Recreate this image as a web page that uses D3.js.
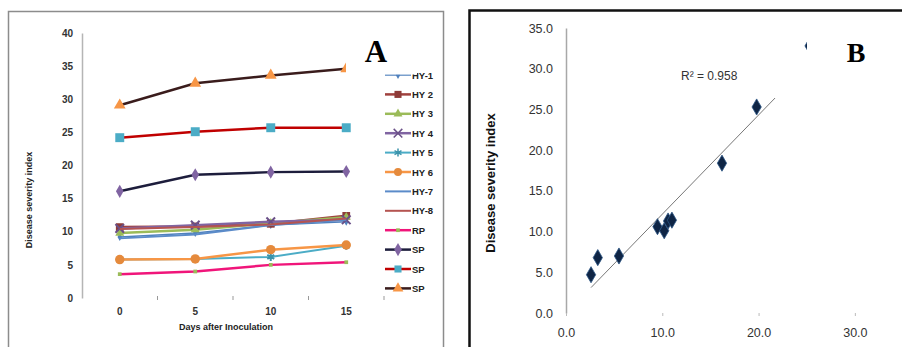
<!DOCTYPE html>
<html>
<head>
  <meta charset="utf-8">
  <script src="https://d3js.org/d3.v7.min.js"></script>
  <style>
    body, html { margin: 0; padding: 0; background: #fff; }
    svg { display: block; font-family: 'Liberation Sans', Arial, sans-serif; }
  </style>
</head>
<body>
  <svg></svg>
  <script>
    // Page size
    const width = 902;
    const height = 347;

    // Panel A data (days after inoculation vs disease severity index)
    const days = [0, 5, 10, 15];
    const seriesNames = ["HY-1", "HY 2", "HY 3", "HY 4", "HY 5", "HY 6", "HY-7", "HY-8", "RP", "SP", "SP", "SP"];
    const hy1 = [9.2, 9.8, 11.0, 11.5];
    const hy2 = [10.7, 10.8, 11.2, 12.4];
    const hy3 = [9.8, 10.3, 11.3, 12.2];
    const hy4 = [10.5, 11.0, 11.5, 11.8];
    const hy5 = [5.8, 5.9, 6.2, 7.9];
    const hy6 = [5.8, 5.9, 7.3, 8.0];
    const hy7 = [9.0, 9.6, 11.0, 11.8];
    const hy8 = [10.4, 10.7, 11.1, 12.0];
    const rp = [3.6, 4.0, 5.0, 5.4];
    const sp1 = [16.1, 18.6, 19.0, 19.1];
    const sp2 = [24.2, 25.1, 25.7, 25.7];
    const sp3 = [29.1, 32.4, 33.6, 34.6];
    const yTicksA = [0, 5, 10, 15, 20, 25, 30, 35, 40];

    // Panel B data (scatter with linear trend)
    const scatterX = [2.6, 3.3, 5.5, 9.5, 10.2, 10.6, 11.0, 16.2, 19.8, 25.3];
    const scatterY = [4.7, 6.8, 7.0, 10.6, 10.1, 11.3, 11.4, 18.4, 25.3, 32.8];
    const yTicksB = [0, 5, 10, 15, 20, 25, 30, 35];
    const xTicksB = [0, 10, 20, 30];

    const svg = d3.select("svg")
      .attr("width", width)
      .attr("height", height)
      .attr("viewBox", [0, 0, width, height]);

    // ---------- Panel A ----------
    svg.append("rect")
      .attr("x", 8.5).attr("y", 11.5).attr("width", 435).attr("height", 350)
      .attr("fill", "#fff").attr("stroke", "#8c8c8c").attr("stroke-width", 1.5);

    const xA = d3.scaleBand().domain(days).range([82, 384]).padding(0);
    const yA = d3.scaleLinear().domain([0, 40]).range([298, 33]);

    svg.append("g")
      .attr("transform", "translate(82,0)")
      .call(d3.axisLeft(yA).tickValues(yTicksA).tickSize(0).tickPadding(9))
      .call(g => g.select(".domain").attr("stroke", "#b5b5b5").attr("stroke-width", 1.5))
      .call(g => g.selectAll("text").attr("font-size", 10).attr("font-weight", "bold").attr("fill", "#333"));

    svg.append("g")
      .attr("transform", "translate(0,298)")
      .call(d3.axisBottom(xA).tickSize(0).tickPadding(10))
      .call(g => g.select(".domain").remove())
      .call(g => g.selectAll("text").attr("font-size", 10).attr("font-weight", "bold").attr("fill", "#333"));

    // tick marks between categories
    svg.append("g")
      .selectAll("line")
      .data(days)
      .join("line")
        .attr("x1", d => xA(d) + xA.bandwidth())
        .attr("x2", d => xA(d) + xA.bandwidth())
        .attr("y1", 296).attr("y2", 300)
        .attr("stroke", "#999");

    svg.append("text")
      .attr("x", 226).attr("y", 330)
      .attr("text-anchor", "middle")
      .attr("font-size", 9).attr("font-weight", "bold").attr("fill", "#222")
      .text("Days after Inoculation");

    svg.append("text")
      .attr("transform", "translate(32,200) rotate(-90)")
      .attr("text-anchor", "middle")
      .attr("font-size", 9).attr("font-weight", "bold").attr("fill", "#222")
      .text("Disease severity index");

    const seriesA = [
      { name: seriesNames[0], values: hy1, line: "#4F81BD", w: 1.5, mark: d3.symbolDiamond, size: 18, fill: "#4F81BD" },
      { name: seriesNames[1], values: hy2, line: "#A0413E", w: 2.5, mark: d3.symbolSquare, size: 60, fill: "#8E3B38" },
      { name: seriesNames[2], values: hy3, line: "#9BBB59", w: 2.5, mark: d3.symbolTriangle, size: 35, fill: "#9BBB59" },
      { name: seriesNames[3], values: hy4, line: "#8064A2", w: 2.5, mark: d3.symbolTimes, size: 50, stroke: "#6a5088" },
      { name: seriesNames[4], values: hy5, line: "#4BACC6", w: 2, mark: d3.symbolAsterisk, size: 45, stroke: "#3b93ab" },
      { name: seriesNames[5], values: hy6, line: "#F79646", w: 2.5, mark: d3.symbolCircle, size: 70, fill: "#E58A3C" },
      { name: seriesNames[6], values: hy7, line: "#5B8BC9", w: 2, mark: null },
      { name: seriesNames[7], values: hy8, line: "#B55451", w: 2, mark: null },
      { name: seriesNames[8], values: rp, line: "#F0157A", w: 2.5, mark: d3.symbolSquare, size: 14, fill: "#9BBB59" },
      { name: seriesNames[9], values: sp1, line: "#1d1d3c", w: 2.5, mark: d3.symbolDiamond, size: 50, fill: "#8064A2" },
      { name: seriesNames[10], values: sp2, line: "#C00000", w: 2.5, mark: d3.symbolSquare, size: 80, fill: "#4BACC6" },
      { name: seriesNames[11], values: sp3, line: "#3a1c1c", w: 2.5, mark: d3.symbolTriangle, size: 60, fill: "#F79646" }
    ];

    const lineA = d3.line()
      .x((d, i) => xA(days[i]) + xA.bandwidth() / 2)
      .y(d => yA(d));

    const gA = svg.append("g");
    seriesA.forEach(s => {
      gA.append("path")
        .attr("d", lineA(s.values))
        .attr("fill", "none")
        .attr("stroke", s.line)
        .attr("stroke-width", s.w);
      if (s.mark) {
        gA.selectAll(null)
          .data(s.values)
          .join("path")
            .attr("transform", (d, i) => `translate(${xA(days[i]) + xA.bandwidth() / 2},${yA(d)})`)
            .attr("d", d3.symbol(s.mark, s.size))
            .attr("fill", s.fill || "none")
            .attr("stroke", s.stroke || "none")
            .attr("stroke-width", s.stroke ? 2 : 0);
      }
    });

    // legend
    const legend = svg.append("g")
      .selectAll("g")
      .data(seriesA)
      .join("g")
        .attr("transform", (d, i) => `translate(385,${75 + i * 19.4})`);

    legend.append("line")
      .attr("x1", 0).attr("x2", 26)
      .attr("stroke", d => d.line)
      .attr("stroke-width", d => Math.min(d.w, 2.5));

    legend.filter(d => d.mark)
      .append("path")
        .attr("transform", "translate(13,0)")
        .attr("d", d => d3.symbol(d.mark, Math.min(d.size, 50))())
        .attr("fill", d => d.fill || "none")
        .attr("stroke", d => d.stroke || "none")
        .attr("stroke-width", d => d.stroke ? 1.5 : 0);

    legend.append("text")
      .attr("x", 27).attr("y", 3.5)
      .attr("font-size", 9.5).attr("font-weight", "bold").attr("fill", "#222")
      .text(d => d.name);

    // white box of the "A" label sitting on top of the chart
    svg.append("rect")
      .attr("x", 346).attr("y", 28).attr("width", 71).attr("height", 46.5)
      .attr("fill", "#fff");
    svg.append("text")
      .attr("x", 376).attr("y", 62)
      .attr("text-anchor", "middle")
      .attr("font-family", "'Liberation Serif', 'Times New Roman', serif")
      .attr("font-size", 31).attr("font-weight", "bold").attr("fill", "#000")
      .text("A");

    // ---------- Panel B ----------
    svg.append("rect")
      .attr("x", 469.5).attr("y", 10.5).attr("width", 440).attr("height", 350)
      .attr("fill", "#fff").attr("stroke", "#111").attr("stroke-width", 2.5);

    const xB = d3.scaleLinear().domain([0, 35]).range([566, 903]);
    const yB = d3.scaleLinear().domain([0, 35]).range([313, 28]);

    svg.append("g")
      .attr("transform", "translate(566,0)")
      .call(d3.axisLeft(yB).tickValues(yTicksB).tickFormat(d3.format(".1f")).tickSize(0).tickPadding(13))
      .call(g => g.select(".domain").attr("stroke", "#a8a8a8").attr("stroke-width", 1.5))
      .call(g => g.selectAll("text").attr("font-size", 12.5).attr("fill", "#333"));

    svg.append("g")
      .attr("transform", "translate(0,313)")
      .call(d3.axisBottom(xB).tickValues(xTicksB).tickFormat(d3.format(".1f")).tickSize(3).tickPadding(12))
      .call(g => g.select(".domain").remove())
      .call(g => g.selectAll("line").attr("stroke", "#bbb"))
      .call(g => g.selectAll("text").attr("font-size", 12.5).attr("fill", "#333"));

    svg.append("text")
      .attr("transform", "translate(495,183) rotate(-90)")
      .attr("text-anchor", "middle")
      .attr("font-size", 13).attr("font-weight", "bold").attr("fill", "#111")
      .text("Disease severity index");

    // linear trend (least squares over the points)
    const mx = d3.mean(scatterX), my = d3.mean(scatterY);
    const slope = d3.sum(scatterX, (x, i) => (x - mx) * (scatterY[i] - my)) / d3.sum(scatterX, x => (x - mx) ** 2);
    const icpt = my - slope * mx;
    const [x0, x1] = d3.extent(scatterX);
    svg.append("line")
      .attr("x1", xB(x0)).attr("y1", yB(icpt + slope * x0))
      .attr("x2", xB(x1)).attr("y2", yB(icpt + slope * x1))
      .attr("stroke", "#777").attr("stroke-width", 1);

    svg.append("g")
      .selectAll("path")
      .data(scatterX)
      .join("path")
        .attr("transform", (d, i) => `translate(${xB(d)},${yB(scatterY[i])})`)
        .attr("d", d3.symbol(d3.symbolDiamond, 75))
        .attr("fill", "#0f2545")
        .attr("stroke", "#2b5585")
        .attr("stroke-width", 0.8);

    svg.append("text")
      .attr("x", 681).attr("y", 80)
      .attr("font-size", 12).attr("fill", "#333")
      .text("R² = 0.958");

    // white box of the "B" label sitting on top of the chart
    svg.append("rect")
      .attr("x", 742).attr("y", 60).attr("width", 160).attr("height", 38)
      .attr("fill", "#fff");
    svg.append("rect")
      .attr("x", 807).attr("y", 14).attr("width", 95).attr("height", 84)
      .attr("fill", "#fff");
    svg.append("text")
      .attr("x", 856).attr("y", 62)
      .attr("text-anchor", "middle")
      .attr("font-family", "'Liberation Serif', 'Times New Roman', serif")
      .attr("font-size", 28).attr("font-weight", "bold").attr("fill", "#000")
      .text("B");
  </script>
</body>
</html>
